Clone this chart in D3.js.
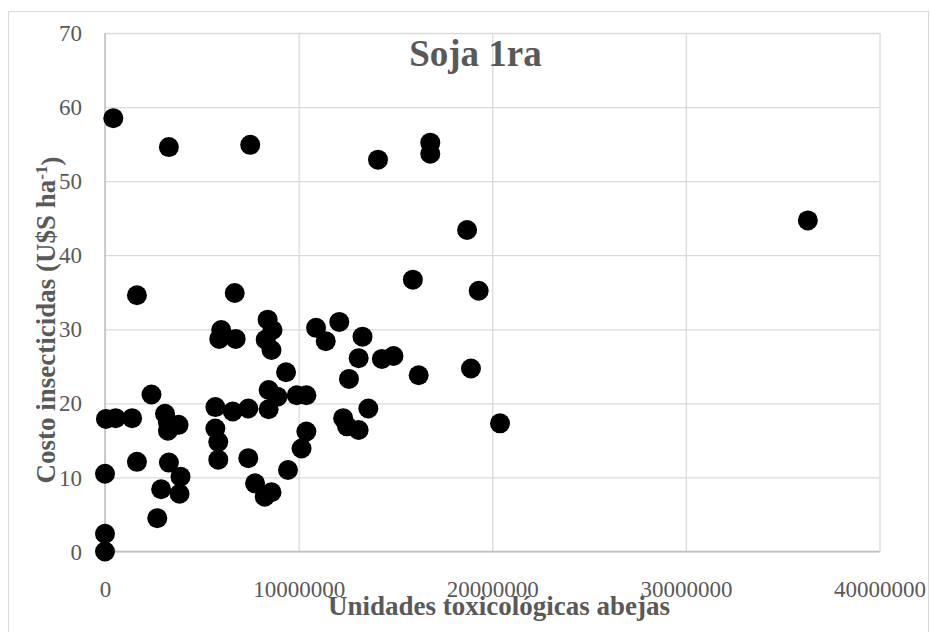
<!DOCTYPE html>
<html>
<head>
<meta charset="utf-8">
<script src="https://cdn.jsdelivr.net/npm/d3@7"></script>
<style>
  body { margin: 0; background: #fff; }
  svg { display: block; }
  .tick text { font-family: "Liberation Serif", "Times New Roman", serif; fill: #595959; }
</style>
</head>
<body>
<svg id="svg"></svg>
<script>
// Soja 1ra - insecticide cost vs bee toxic units

const toxUnits = [
  430000, 3300000, 7500000, 16800000, 16800000, 14100000, 18700000, 36300000,
  1650000, 6700000, 15900000, 19300000, 8400000, 6000000, 5900000, 6750000,
  8650000, 8300000, 8600000, 10900000, 12100000, 11400000, 13300000, 13100000,
  14300000, 14900000, 9350000, 12600000, 16200000, 18900000, 8450000, 8900000,
  8450000, 9900000, 10400000, 5700000, 6600000, 7400000, 13600000, 12300000,
  12500000, 13100000, 20400000, 10400000, 10150000, 5700000, 5850000, 5850000,
  7400000, 9450000, 7750000, 8250000, 8600000, 2400000, 50000, 550000,
  1400000, 3100000, 3250000, 3800000, 3250000, 1650000, 3300000, 3900000,
  0, 2900000, 3850000, 2700000, 0, 0
];

const costs = [
  58.5, 54.6, 54.9, 55.2, 53.7, 52.9, 43.4, 44.7,
  34.6, 34.9, 36.7, 35.2, 31.3, 29.9, 28.7, 28.7,
  29.9, 28.6, 27.2, 30.2, 31.0, 28.4, 29.0, 26.1,
  26.0, 26.4, 24.2, 23.3, 23.8, 24.7, 21.8, 20.9,
  19.2, 21.1, 21.1, 19.5, 18.9, 19.3, 19.3, 18.0,
  16.9, 16.4, 17.3, 16.2, 13.9, 16.6, 14.8, 12.4,
  12.6, 11.0, 9.2, 7.4, 8.0, 21.2, 17.9, 18.0,
  18.0, 18.6, 17.4, 17.1, 16.3, 12.1, 12.0, 10.1,
  10.5, 8.4, 7.8, 4.5, 2.4, 0
];

const xTicks = [0, 10000000, 20000000, 30000000, 40000000];
const yTicks = [0, 10, 20, 30, 40, 50, 60, 70];

const chartTitle = 'Soja 1ra';
const xTitle = 'Unidades toxicológicas abejas';
const yTitle = 'Costo insecticidas (U$S ha';

const width = 930;
const height = 632;
const textColor = '#595959';

const svg = d3.select('#svg')
  .attr('width', width)
  .attr('height', height);

// outer chart border
svg.append('rect')
  .attr('x', 8.5)
  .attr('y', 11.5)
  .attr('width', 920)
  .attr('height', 630)
  .attr('fill', 'none')
  .attr('stroke', '#d9d9d9');

const xScale = d3.scaleLinear()
  .domain([0, 40000000])
  .range([105, 879.5]);

const yScale = d3.scaleLinear()
  .domain([0, 70])
  .range([551.5, 33]);

// gridlines
svg.append('g')
  .attr('transform', 'translate(0,551.5)')
  .call(d3.axisBottom(xScale).tickValues(xTicks).tickSize(-(551.5 - 33)).tickFormat(''))
  .call(g => g.select('.domain').remove())
  .call(g => g.selectAll('line').attr('stroke', '#d9d9d9').attr('stroke-width', 1.3));

svg.append('g')
  .attr('transform', 'translate(105,0)')
  .call(d3.axisLeft(yScale).tickValues(yTicks).tickSize(-(879.5 - 105)).tickFormat(''))
  .call(g => g.select('.domain').remove())
  .call(g => g.selectAll('line').attr('stroke', '#d9d9d9').attr('stroke-width', 1.3));

// axis lines
svg.append('line')
  .attr('x1', 105).attr('x2', 105)
  .attr('y1', 33).attr('y2', 551.5)
  .attr('stroke', '#bfbfbf').attr('stroke-width', 1.5);
svg.append('line')
  .attr('x1', 105).attr('x2', 879.5)
  .attr('y1', 551.5).attr('y2', 551.5)
  .attr('stroke', '#bfbfbf').attr('stroke-width', 1.5);

// tick labels
svg.append('g')
  .attr('transform', 'translate(0,551.5)')
  .call(d3.axisBottom(xScale).tickValues(xTicks).tickSize(0).tickPadding(0).tickFormat(d3.format('d')))
  .call(g => g.select('.domain').remove())
  .call(g => g.selectAll('text')
    .attr('y', 45)
    .attr('dy', null)
    .attr('font-size', '23px'));

svg.append('g')
  .attr('transform', 'translate(82,0)')
  .call(d3.axisLeft(yScale).tickValues(yTicks).tickSize(0).tickPadding(0))
  .call(g => g.select('.domain').remove())
  .call(g => g.selectAll('text')
    .attr('x', 0)
    .attr('dy', '0.33em')
    .attr('font-size', '23px'));

// points
svg.append('g')
  .selectAll('circle')
  .data(toxUnits.map((x, i) => ({ x: x, y: costs[i] })))
  .enter()
  .append('circle')
  .attr('cx', d => xScale(d.x))
  .attr('cy', d => yScale(d.y))
  .attr('r', 10)
  .attr('fill', '#000');

// titles
svg.append('text')
  .attr('x', 475.5)
  .attr('y', 66)
  .attr('text-anchor', 'middle')
  .attr('font-family', '"Liberation Serif", "Times New Roman", serif')
  .attr('font-weight', 'bold')
  .attr('font-size', '37px')
  .attr('fill', textColor)
  .text(chartTitle);

svg.append('text')
  .attr('x', 499)
  .attr('y', 615)
  .attr('text-anchor', 'middle')
  .attr('font-family', '"Liberation Serif", "Times New Roman", serif')
  .attr('font-weight', 'bold')
  .attr('font-size', '27px')
  .attr('fill', textColor)
  .text(xTitle);

const yLabel = svg.append('text')
  .attr('transform', 'translate(55,320) rotate(-90)')
  .attr('text-anchor', 'middle')
  .attr('font-family', '"Liberation Serif", "Times New Roman", serif')
  .attr('font-weight', 'bold')
  .attr('font-size', '27px')
  .attr('fill', textColor);
yLabel.append('tspan').text(yTitle);
yLabel.append('tspan').attr('dy', '-0.45em').attr('font-size', '17px').text('-1');
yLabel.append('tspan').attr('dy', '0.45em').text(')');
</script>
</body>
</html>
